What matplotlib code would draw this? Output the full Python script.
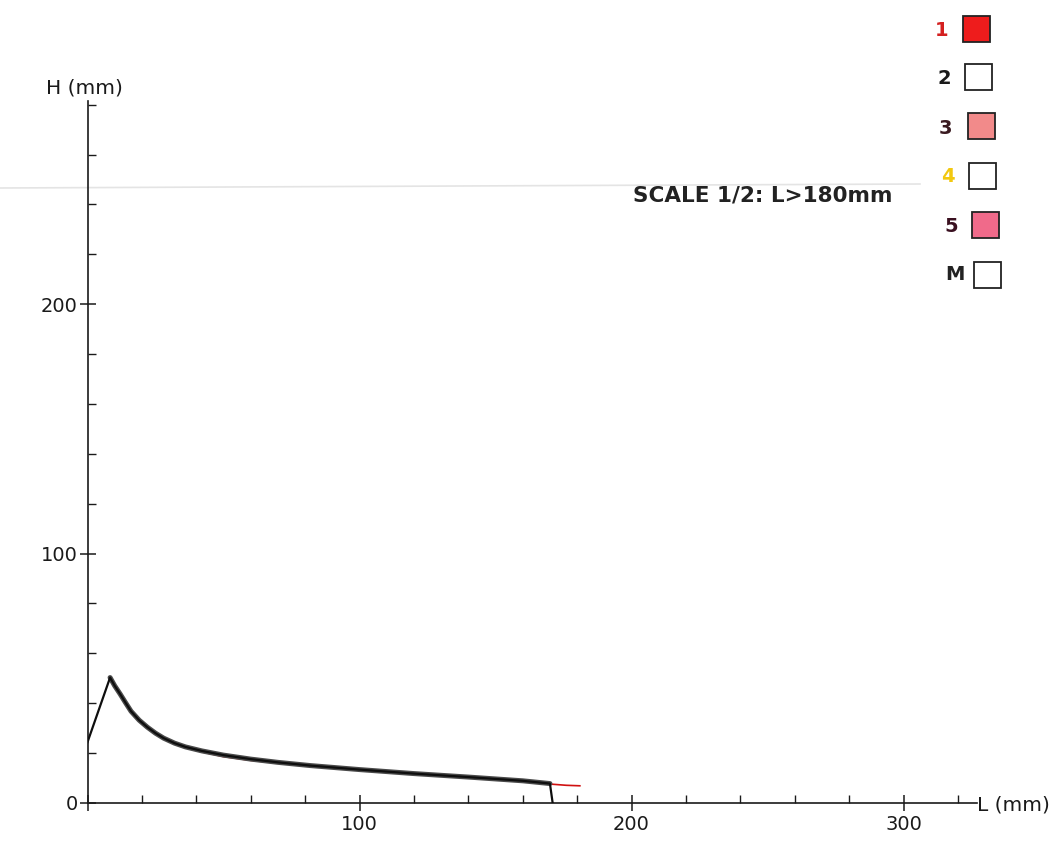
import matplotlib
matplotlib.use("Agg")
import matplotlib.pyplot as plt
from matplotlib.patches import Rectangle
from matplotlib.ticker import MultipleLocator, FixedLocator, FixedFormatter

# ---- data ----
L_main = [0, 8.3, 10, 12, 14, 16, 19, 22, 25, 28, 32, 36, 42, 50, 60, 70, 82, 100, 120, 140, 160, 170, 171]
H_main = [24.4, 50.3, 47, 43.7, 40.2, 36.8, 33.2, 30.4, 28, 26, 24, 22.5, 20.9, 19.2, 17.6, 16.3, 15, 13.4, 11.8, 10.4, 8.9, 7.8, 0]
L_red = [8.3, 10, 12, 14, 16, 19, 22, 25, 28, 32, 36, 42, 50, 60, 70, 82, 100, 120, 140, 160, 170, 176, 181]
H_red = [50.3, 47, 43.7, 40.2, 36.8, 33.2, 30.4, 28, 26, 24, 22.4, 20.5, 18.6, 17.1, 16.0, 14.8, 13.4, 11.8, 10.4, 8.9, 7.6, 7.1, 6.9]
x_major = [0, 100, 200, 300]
x_major_labels = ["", "100", "200", "300"]
y_major = [0, 100, 200]
y_major_labels = ["0", "100", "200"]
legend_labels = ["1", "2", "3", "4", "5", "M"]
legend_label_colors = ["#d42020", "#1a1a1a", "#3a1a20", "#f2c80f", "#3a1020", "#222222"]
legend_fills = ["#ee1c1c", "#ffffff", "#f28a8a", "#ffffff", "#f06a8a", "#ffffff"]

W, H = 1062, 842
fig = plt.figure(figsize=(W / 100, H / 100), dpi=100)
fig.patch.set_facecolor("white")

left, bottom = 87.5 / W, (H - 803) / H
ax = fig.add_axes([left, bottom, (977 - 87.5) / W, (803 - 101) / H])
ax.set_xlim(0, 327)
ax.set_ylim(0, 281.5)
ax.patch.set_alpha(0)

for s in ["top", "right"]:
    ax.spines[s].set_visible(False)
for s in ["left", "bottom"]:
    ax.spines[s].set_linewidth(1.2)
    ax.spines[s].set_color("#1a1a1a")

ax.xaxis.set_major_locator(FixedLocator(x_major))
ax.xaxis.set_major_formatter(FixedFormatter(x_major_labels))
ax.yaxis.set_major_locator(FixedLocator(y_major))
ax.yaxis.set_major_formatter(FixedFormatter(y_major_labels))
ax.xaxis.set_minor_locator(MultipleLocator(20))
ax.yaxis.set_minor_locator(MultipleLocator(20))
ax.tick_params(axis="both", which="major", direction="inout", length=12, width=1.1,
               labelsize=14, colors="#1a1a1a", pad=1)
ax.tick_params(axis="both", which="minor", direction="in", length=6, width=1.0, colors="#1a1a1a")
ax.tick_params(axis="x", which="major", pad=3)

# curves
ax.plot(L_red, H_red, color="#d01010", lw=1.2, zorder=2)
ax.plot(L_main[1:-1], H_main[1:-1], color="#4a4a4a", lw=3.6, zorder=3,
        solid_capstyle="round", solid_joinstyle="round")
ax.plot(L_main, H_main, color="#0e0e0e", lw=1.6, zorder=4, solid_joinstyle="round")

# axis labels
fig.text(84 / W, 1 - 88 / H, "H (mm)", fontsize=14.5, ha="center", va="center", color="#1a1a1a")
fig.text(977 / W, 1 - 805 / H, "L (mm)", fontsize=14.5, ha="left", va="center", color="#1a1a1a")

# scale note
fig.text(633 / W, 1 - 201.5 / H, "SCALE 1/2: L>180mm", fontsize=15.5, fontweight="bold",
         ha="left", va="baseline", color="#222222")

# faint scan line
fig.add_artist(plt.Line2D([0, 920 / W], [1 - 188 / H, 1 - 184 / H], color="#e4e4e4", lw=1.2,
                          transform=fig.transFigure, zorder=0))

# legend
lab_pos = [(942, 31), (944, 79), (945, 128), (948, 177), (951, 226), (955, 275)]
box_pos = [(963, 16), (965, 64), (968, 113), (969, 163), (972, 212), (974, 262)]
for lab, lc, fc, (lx, ly), (bx, by) in zip(legend_labels, legend_label_colors, legend_fills,
                                           lab_pos, box_pos):
    fig.text(lx / W, 1 - ly / H, lab, fontsize=14, fontweight="bold", color=lc,
             ha="center", va="center")
    fig.add_artist(Rectangle((bx / W, 1 - (by + 26) / H), 27 / W, 26 / H,
                             transform=fig.transFigure, facecolor=fc, edgecolor="#222222",
                             lw=1.3))

fig.savefig("out.png", dpi=100, facecolor="white")
